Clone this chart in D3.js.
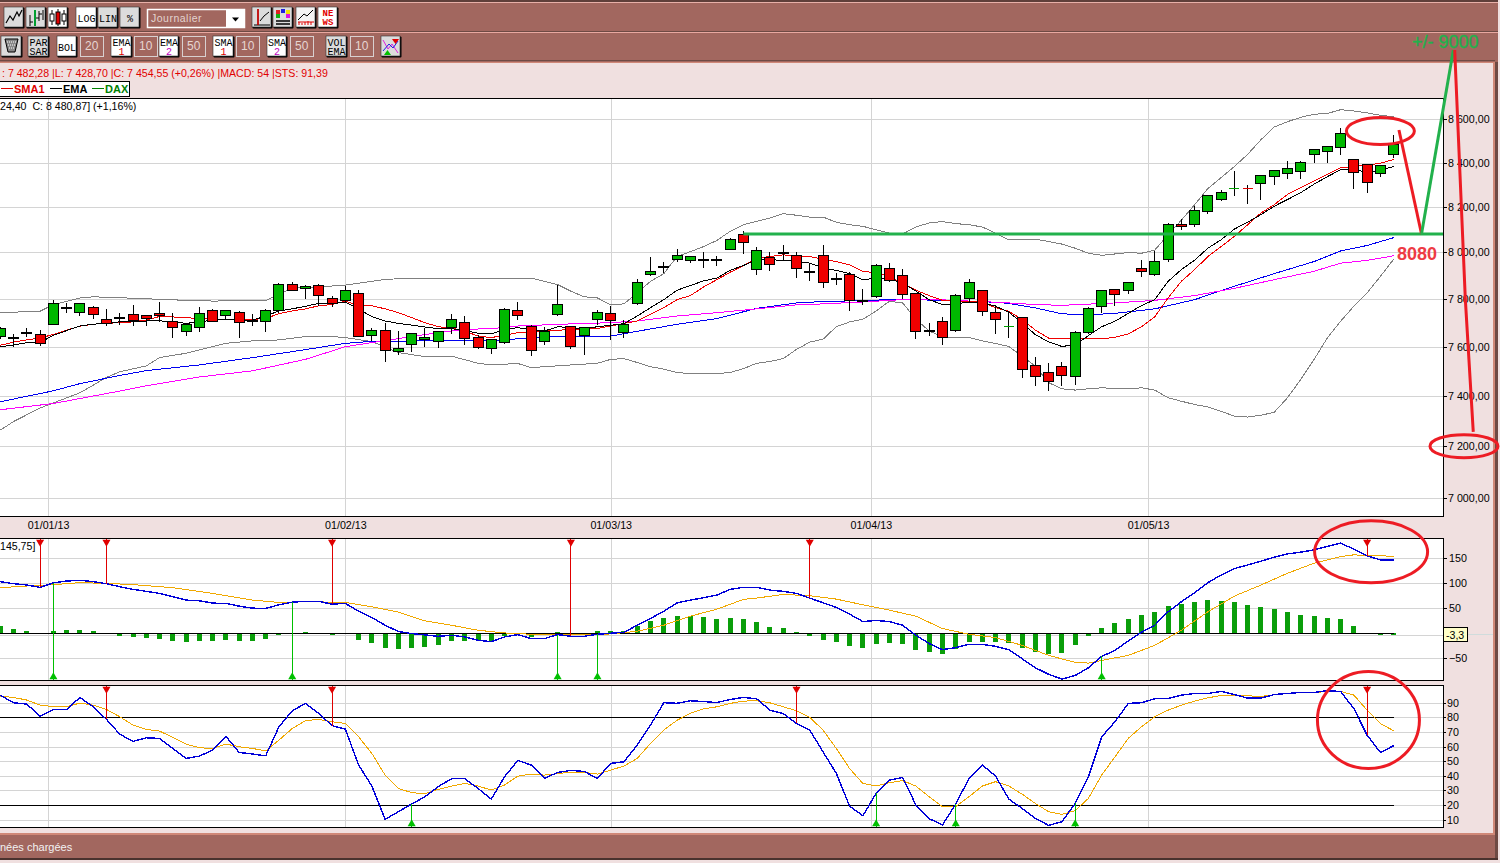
<!DOCTYPE html>
<html>
<head>
<meta charset="utf-8">
<script src="https://cdn.jsdelivr.net/npm/d3@7"></script>
<style>
  html, body { margin: 0; padding: 0; background: #f0e0e0; overflow: hidden; }
  text { font-family: "Liberation Sans", Arial, sans-serif; font-size: 10.6px; }
  .btn text { font-family: "Liberation Mono", monospace; font-size: 10px; text-anchor: middle; }
  .tick text { font-family: "Liberation Sans", Arial, sans-serif; font-size: 10.7px; fill: #000; }
  .grid line { stroke: #d4d4d4; shape-rendering: crispEdges; }
  .grid path, .noline path { display: none; }
  .noline line { stroke: #000; shape-rendering: crispEdges; }
  .mark { fill: none; shape-rendering: crispEdges; }
</style>
</head>
<body>
<div id="chart"></div>
<script>
// Daily candles, one entry per trading day
var candleOpen = [7644,7636,7657,7650,7692,7761,7742,7762,7713,7719,
  7733,7729,7738,7704,7662,7679,7750,7729,7742,7708,
  7704,7750,7860,7843,7856,7800,7792,7821,7646,7667,
  7582,7608,7629,7621,7679,7700,7638,7592,
  7617,7750,7683,7621,7733,7683,7646,7713,7738,7658,
  7779,7906,7939,7970,7966,7969,7969,8013,8077,7924,
  7979,7999,7987,7919,7987,7889,7906,7794,7809,7928,
  7902,7821,7668,7704,7667,7800,7834,7742,
  7682,7720,7521,7493,7517,7477,7657,7767,7838,7834,
  7928,7906,7970,8120,8124,8178,8232,8281.5,8282,8305,
  8336,8350,8359,8436,8450,8468,8414,8391,8350,8436];
var candleHigh = [7682,7654,7679,7668,7794,7781,7780,7772,7756,7739,
  7776,7733,7789,7739,7700,7767,7756,7751,7750,7735,
  7756,7866,7874,7860,7864,7813,7857,7839,7679,7697,
  7664,7658,7679,7663,7738,7729,7650,7630,
  7763,7789,7692,7683,7860,7684,7683,7754,7771,7713,
  7885,7978,7958,8013,7984,8001,7982,8062,8092,8022,
  8000,8031,8000,7953,8031,7911,7915,7843,7949,7953,
  7928,7822,7700,7725,7821,7885,7840,7775,
  7744,7721,7558,7534,7538,7666,7767,7838,7843,7873,
  7966,8004,8129,8147,8205,8253,8277,8361,8297,8342,
  8368,8405,8409,8460,8477,8559,8415,8392,8391,8527];
var candleLow = [7630,7600,7642,7603,7690,7742,7728,7717,7686,7689,
  7686,7686,7703,7636,7644,7661,7703,7714,7636,7686,
  7661,7742,7833,7800,7772,7765,7783,7641,7622,7537,
  7565,7578,7599,7595,7651,7607,7589,7570,
  7611,7711,7562,7607,7728,7589,7566,7689,7629,7638,
  7775,7896,7911,7959,7952,7931,7939,8009,7994,7901,
  7918,7968,7888,7875,7845,7858,7749,7776,7804,7872,
  7800,7632,7645,7607,7661,7783,7728,7653,
  7636,7472,7439,7419,7439,7443,7654,7739,7769,7823,
  7892,7897,7956,8099,8112,8170,8227,8251,8215,8233,
  8297,8324,8324,8400,8397,8435,8279,8261,8336,8422];
var candleClose = [7675,7637,7658,7613,7779,7762,7779,7733,7696,7720,
  7708,7717,7728,7679,7692,7738,7704,7750,7700,7707,
  7750,7860,7834,7851,7813,7779,7834,7642,7667,7584,
  7592,7654,7638,7662,7713,7633,7596,7629,
  7754,7729,7584,7663,7775,7600,7679,7742,7708,7692,
  7872,7919,7940,7987,7983,7968,7970,8058,8044,8009,
  7949,7998,7932,7911,7872,7881,7792,7795,7945,7877,
  7817,7663,7667,7638,7813,7872,7746,7713,
  7682.5,7505,7477,7459,7481,7657,7758,7834,7817,7872,
  7915,7962,8124,8111,8182,8250,8264,8282,8281.5,8341,
  8364,8373,8400,8459,8473,8532,8355,8309,8386,8481];

// Moving averages and Bollinger bands
var ema10 = [7600,7607,7617,7618,7647,7667,7686,7694,7696,7704,7705,7707,7708,7703,7697,7703,7711,7714,7710,7710,
  7728,7749,7758,7769,7781,7782,7787,7758,7725,7707,7697,7690,7682,7675,7675,7667,7656,7653,
  7672,7679,7670,7665,7683,7679,7675,7683,7689,7696,7728,7763,7797,7837,7857,7877,7889,7922,7943,7968,7970,7963,
  7962,7953,7933,7922,7908,7882,7888,7885,7868,7833,7797,7776,7779,7787,7783,7769,
  7744,7699,7650,7620,7601,7608,7646,7683,7706,7739,7772,7797,7875,7925,7966,8018,8055,8102,8132,8166,
  8203,8233,8264,8302,8336,8367,8370,8355,8365,8382];
var sma10 = [7606,7619,7628,7636,7651,7669,7685,7694,7696,7701,7703,7711,7726,7724,7721,7717,7714,7714,7711,7714,
  7717,7738,7749,7758,7771,7776,7790,7774,7771,7758,7742,7721,7700,7683,7678,7665,7644,7638,
  7647,7658,7661,7665,7668,7672,7672,7676,7686,7697,7707,7735,7763,7797,7814,7851,7882,7914,7942,7975,7982,7989,
  7985,7982,7970,7960,7946,7918,7911,7897,7865,7837,7814,7794,7790,7790,7786,7763,
  7748,7713,7669,7636,7636,7636,7632,7632,7639,7653,7683,7725,7804,7875,7925,7982,8025,8070,8121,8173,
  8210,8256,8286,8317,8347,8377,8382,8388,8397,8414];
var ema50Days = [0,4,6,9,11,15,19,23,26,28,33,37,41,46,48,51,54,57,60,62,65,68,71,75,76,78,80,82,84,87,90,93,96,99,101,103,105];
var ema50 = [7376,7420,7449,7482,7502,7525,7555,7588,7614,7622,7625,7624,7642,7644,7664,7693,7717,7760,7783,7789,7793,7799,7793,7786,7781,7762,7737,7733,7739,7758,7797,7854,7908,7960,8006,8030,8064];
var sma50Days = [0,4,9,11,15,19,23,26,28,31,33,35,37,39,42,46,48,51,54,57,60,62,65,68,71,75,76,78,80,84,87,90,93,96,99,101,103,105];
var sma50 = [7344,7369,7419,7440,7476,7501,7548,7600,7617,7642,7658,7672,7675,7686,7693,7700,7707,7728,7742,7758,7775,7779,7787,7797,7796,7786,7783,7776,7773,7783,7794,7814,7845,7882,7918,7953,7965,7985];
var bolUpDays = [0,3,4,6,7,10,13,16,20,22,24,26,29,30,34,37,38,40,41,42,43,44,45,46,47,48,49,50,51,52,53,54,55,56,57,58,59,60,61,62,63,64,65,66,67,68,69,70,71,72,73,74,75,
  76,77,78,79,80,81,82,83,84,85,86,87,88,89,90,91,92,93,94,95,96,97,98,99,100,101,102,103,104,105];
var bolUp = [7742,7748,7776,7804,7809,7803,7796,7791,7793,7847,7851,7859,7883,7886,7886,7886,
  7889,7889,7875,7861,7833,7809,7804,7775,7779,7826,7875,7908,7982,8003,8025,8052,8092,8121,8136,8151,8170,8163,8155,8155,8132,8121,8114,8099,8084,8080,8111,8129,8135,8126,8121,8111,8084,
  8055,8055,8058,8047,8036,8018,7996,7987,7993,7999,7996,8010,8077,8141,8210,8282,8332,8382,8438,8505,8564,8589,8609,8624,8627,8645,8639,8630,8619,8612];
var bolLowDays = [0,1,3,6,8,9,11,12,14,16,17,19,21,23,25,26,28,30,32,34,36,37,38,39,40,41,43,45,46,47,48,49,50,51,52,54,55,56,57,58,59,60,61,62,63,64,65,66,67,68,69,70,71,72,73,74,75,
  76,77,78,79,80,81,82,83,84,85,86,87,88,89,90,91,92,93,94,95,96,97,98,99,100,101,102,103,104,105];
var bolLow = [7263,7297,7351,7412,7474,7497,7521,7555,7573,7600,7614,7624,7628,7642,7642,7638,7621,7576,7559,7561,7532,7525,
  7528,7531,7514,7518,7525,7532,7548,7551,7535,7518,7508,7494,7490,7490,7494,7510,7532,7539,7551,7589,7619,7631,7683,7703,7714,7749,7790,7783,7714,7665,7642,7638,7638,7624,7613,
  7601,7561,7520,7453,7428,7423,7428,7432,7430,7428,7432,7423,7392,7378,7365,7355,7338,7318,7315,7322,7334,7392,7466,7547,7636,7706,7769,7826,7896,7970];

// MACD panel
var macdLine = [102.3,98.3,95.6,91,100,103.6,105,102.3,98.3,92.3,87,83,79,72.3,65.6,64.3,59.6,59,53.6,49.6,
  49,56.3,61.6,63,63,57.6,59,43.6,31,15.6,3,-1,-3.7,-6.4,-4.4,-7.7,-14.4,-17,-7.7,-3,
  -11,-11,-3,-6.4,-6.4,-2.4,-0.4,1.6,15.6,29,43.6,60,65.6,70.3,75.6,87,91,
  91,85.6,83,79,69.6,60.3,51,37.6,23,25,23,15.6,-4.4,-21,-33,-29,-22.4,-22.4,-26.4,-33,
  -51,-69,-82,-91.6,-84.4,-69,-46.4,-34.4,-15.7,1.6,15.6,42.3,62.3,80.3,100.3,115.6,128.3,135.6,143,151,
  157.6,161,165.6,172.3,179,167,153.6,145.7,145.75];
var macdSignalDays = [0,2,4,6,8,10,13,16,19,21,23,25,26,28,30,32,34,36,38,40,42,44,46,48,50,52,54,56,57,59,61,63,65,67,69,71,73,75,77,79,81,82,83,85,87,89,91,93,95,97,99,101,102,103,105];
var macdSignal = [90.3,93.7,96.4,100.3,99,96.4,90.3,79,65.6,61,62.3,61.6,61,52.3,41.7,24.3,15.6,5.6,0.3,-2.4,-3,-3.7,-1.7,3.6,15.6,33.6,47.6,67,69.6,77,74.3,67.6,56.3,45.6,33.6,9,-2.4,-9,-24.4,-44.4,-58.4,-59.7,-54.4,-44.4,-24.4,5.6,42.3,73.6,95.6,119,139,152.3,155.7,154.3,153];
var macdHist = [14.7,8.7,4.7,0,4.7,6.7,6.7,4.7,0,-5.3,-7.3,-9.3,-11.3,-15.3,-17.3,-15.3,-15.3,-13.3,-15.3,-15.3,
  -11.3,-3.3,0,2.7,0,-3,0,-13.3,-19.3,-29.3,-31.3,-29.3,-27.3,-23.3,-15.3,-15.3,-15.3,-15.3,-5.3,-3,
  -7,-3,2.7,-3,0,4.7,4.7,4.7,14,24.7,30.7,34.7,34.7,32.7,28.7,30.7,28.7,
  22.7,12.7,10.7,2.7,-5.3,-13.3,-17.3,-25.3,-29.3,-21.3,-19.3,-21.3,-33.3,-37.3,-41.3,-31.3,-17.3,-17.3,-17.3,-19.3,
  -29.3,-37.3,-41.3,-39.3,-23.3,-5.3,10.7,20.7,28.7,36.7,42.7,54.7,58.7,62.7,66.7,64.7,62.7,56.7,52.7,48.7,
  42.7,36.7,34.7,30.7,28.7,14.7,0,-3.3,-3.3];
var macdSellDays = [3,8,25,43,61,103];
var macdBuyDays = [4,22,42,45,83];
var macdLast = -3.3;

// Stochastic panel
var stochK = [95,90,89,80.8,85.4,85.4,93.6,87.2,78.6,68.5,63.5,66,65.6,58.7,51.9,53.5,57.6,67,56,54.9,
  53.7,73.6,84.5,89.5,82.7,74.3,72,47.4,33,10.2,15.5,20.7,25.7,32.6,38,38,31.4,24.1,39.4,50.5,
  47.4,38.3,42.3,43.7,43,38.2,48.5,49.6,61,74.7,90,89.6,91.3,90.8,90.1,92.2,93.6,
  92.7,84.9,82.6,75.8,71.3,56.4,41.7,19.3,12.7,28,37.1,38.9,20,10.7,6.4,20.7,38.2,47.4,39.8,24.1,
  17.7,10.9,6.1,8.6,21.1,39.4,66.7,77,89.5,90,92.7,92.9,95.2,96.3,96.3,97.7,95.6,93.1,93.1,95.6,
  96.3,97,97,98.2,97.7,86,67.8,56,60.6];
var stochD = [94.5,93.6,91.8,88.3,87.4,87.4,89.7,88.3,85.4,80.4,74.7,71.7,70.6,66.3,61.7,59.2,58.7,61.7,59.9,58.7,
  57.1,64.4,72.4,77.7,78.6,77,75.8,66.7,55.3,40.5,31.4,28.5,27.8,30.7,33,34.8,33,30.3,33.7,39.8,
  41.2,40.5,41.4,42.6,42.3,41.2,43.9,46.7,51.9,62.2,71.3,78,82.7,85.8,87.2,89.5,91.1,
  91.3,89.9,87.2,84.5,79.9,71.3,58.7,45,34.8,33,35.3,36.7,33,25.7,18.9,18.9,25.7,33,36,33,
  27.5,21.1,15.5,13.6,16.2,24.6,40.5,53,65.6,73.6,80.4,84.9,88.3,91.1,93.3,95,95.2,94.7,94.3,95.4,
  96.5,96.7,96.7,97.9,97.7,95.2,84.9,75.8,70.8];
var stochSellDays = [8,25,60,103];
var stochBuyDays = [31,66,72,81];

// Axis ticks
var monthDays = [3.6,26,46,65.6,86.5];
var monthLabels = ["01/01/13","01/02/13","01/03/13","01/04/13","01/05/13"];
var priceTicks = [7000,7200,7400,7600,7800,8000,8200,8400,8600];
var macdTicks = [150,100,50,-50];
var stochTicks = [90,80,70,60,50,40,30,20,10];
var stochBands = [80,20];

// Hand drawn notes on top of the chart
var noteLevel = 8080;
var noteFallDays = [105.4,107.1];
var noteFallPrices = [8550,8080];
var noteRiseDays = [107.1,109.5];
var noteRisePrices = [8080,8930];
var noteDropDays = [109.6,110.4,111];
var noteDropPrices = [8930,7800,7256];

var width = 1500, height = 863;
var plotRight = 1443;

var svg = d3.select("#chart").append("svg")
  .attr("width", width).attr("height", height)
  .style("display", "block");

// Scales
var x = d3.scaleLinear().domain([0,105]).range([0.3,1393.65]);
var y = d3.scaleLog().domain([7000,8600]).range([498,119.3]);
var yMacd = d3.scaleLinear().domain([-50,150]).range([658.2,557.7]);
var yStoch = d3.scaleLinear().domain([10,90]).range([819.7,702.7]);

// Window frame
svg.append("rect").attr("width", 1493).attr("height", 833).attr("fill", "#f0e0e0");
svg.append("rect").attr("x", 1493).attr("y", 0).attr("width", 2).attr("height", 835).attr("fill", "#d08878");
svg.append("rect").attr("x", 1495).attr("y", 60).attr("width", 3).attr("height", 800).attr("fill", "#6e4a44");
svg.append("rect").attr("width", 1498).attr("height", 62).attr("fill", "#a2675f");
svg.append("rect").attr("width", 1498).attr("height", 2).attr("fill", "#5f3f3a");
svg.append("rect").attr("y", 2).attr("width", 1498).attr("height", 1).attr("fill", "#e8b0a8");
svg.append("rect").attr("y", 31).attr("width", 1498).attr("height", 1).attr("fill", "#6e4a44");
svg.append("rect").attr("y", 32).attr("width", 1498).attr("height", 1).attr("fill", "#e8a8a0");
svg.append("rect").attr("y", 60).attr("width", 1495).attr("height", 1).attr("fill", "#6e4a44");
svg.append("rect").attr("y", 62).attr("width", 1495).attr("height", 1).attr("fill", "#d08878");
svg.append("rect").attr("y", 833).attr("width", 1495).attr("height", 2).attr("fill", "#d08878");
svg.append("rect").attr("y", 835).attr("width", 1495).attr("height", 24).attr("fill", "#a2675f");
svg.append("rect").attr("y", 858).attr("width", 1498).attr("height", 2).attr("fill", "#4a322e");
svg.append("text").attr("x", 0).attr("y", 851).attr("fill", "#f2f2f2").style("font-size", "11px").text("nées chargées");

// Toolbar buttons
function button(px, py, w, h, fill, label, sub, subColor) {
  var g = svg.append("g").attr("class", "btn").attr("transform", "translate(" + px + "," + py + ")");
  g.append("rect").attr("x", 0.5).attr("y", 0.5).attr("width", w).attr("height", h)
    .attr("fill", "#000").attr("rx", 1);
  g.append("rect").attr("x", 0).attr("y", 0).attr("width", w - 1).attr("height", h - 1)
    .attr("fill", fill).attr("stroke", "#333").attr("stroke-width", 0.6);
  if (label) g.append("text").attr("x", w / 2).attr("y", sub ? h / 2 - 1 : h / 2 + 4).attr("fill", "#000").text(label);
  if (sub) g.append("text").attr("x", w / 2).attr("y", h - 2).attr("fill", subColor || "#000").text(sub);
  return g;
}
function inputBox(px, value) {
  svg.append("rect").attr("x", px + 0.5).attr("y", 36.5).attr("width", 23).attr("height", 20)
    .attr("fill", "#a2675f").attr("stroke", "#d8d0d0");
  svg.append("text").attr("x", px + 5).attr("y", 50).attr("fill", "#e6d6d2").style("font-size", "12px").text(value);
}
var grey = "#dcdcdc";
var iconLine = button(4, 7, 20, 21, grey);
iconLine.append("path").attr("d", "M2,16L6,9L9,13L13,5L15,9L18,3").attr("fill", "none").attr("stroke", "#000").attr("stroke-width", 1.2);
var iconBars = button(26, 7, 20, 21, grey);
iconBars.append("path").attr("d", "M4,8V19M4,15H7M13,4V14M13,7H16M10,11H13M17,3V13").attr("fill", "none").attr("stroke", "#000");
iconBars.append("path").attr("d", "M9,3V19").attr("stroke", "#00a030").attr("stroke-width", 2);
var iconCandles = button(48, 7, 20, 21, "#fff");
iconCandles.append("path").attr("d", "M4,3V18M10,2V19M16,3V18").attr("stroke", "#000");
iconCandles.append("rect").attr("x", 2).attr("y", 7).attr("width", 4).attr("height", 7).attr("fill", "#fff").attr("stroke", "#000");
iconCandles.append("rect").attr("x", 8).attr("y", 5).attr("width", 4).attr("height", 12).attr("fill", "#e00000").attr("stroke", "#000");
iconCandles.append("rect").attr("x", 14).attr("y", 7).attr("width", 4).attr("height", 7).attr("fill", "#fff").attr("stroke", "#000");
button(76, 7, 21, 21, "#fff", "LOG");
button(98, 7, 20, 21, grey, "LIN");
button(120, 7, 20, 21, grey, "%");

svg.append("rect").attr("x", 147.5).attr("y", 9.5).attr("width", 97).attr("height", 18).attr("fill", "#a2675f").attr("stroke", "#fff").attr("stroke-width", 1.5);
svg.append("rect").attr("x", 226).attr("y", 10).attr("width", 18).attr("height", 17).attr("fill", "#fff");
svg.append("path").attr("d", "M232,17.5h7l-3.5,4z").attr("fill", "#000");
svg.append("text").attr("x", 151).attr("y", 22).attr("fill", "#e2d4d0").style("font-size", "10.5px").style("letter-spacing", "0.5px").text("Journalier");

var iconA = button(252, 7, 20, 21, grey);
iconA.append("path").attr("d", "M2,18H18M6,2V18").attr("stroke", "#000");
iconA.append("path").attr("d", "M6,2V18").attr("stroke", "#e00000").attr("stroke-width", 1.5);
iconA.append("path").attr("d", "M8,14L12,9L17,5").attr("fill", "none").attr("stroke", "#000");
var iconB = button(273, 7, 20, 21, grey);
iconB.append("rect").attr("x", 3).attr("y", 3).attr("width", 4).attr("height", 4).attr("fill", "#e02020");
iconB.append("rect").attr("x", 8).attr("y", 2).attr("width", 4).attr("height", 4).attr("fill", "#2020e0");
iconB.append("rect").attr("x", 13).attr("y", 3).attr("width", 4).attr("height", 4).attr("fill", "#f0e000");
iconB.append("rect").attr("x", 3).attr("y", 7).attr("width", 4).attr("height", 4).attr("fill", "#10b010");
iconB.append("rect").attr("x", 13).attr("y", 7).attr("width", 4).attr("height", 4).attr("fill", "#e010e0");
iconB.append("path").attr("d", "M3,14H17M3,17H17").attr("stroke", "#000").attr("stroke-width", 1.4);
var iconC = button(296, 7, 20, 21, "#f4f4f4");
iconC.append("path").attr("d", "M2,13L8,7L11,9L17,3").attr("fill", "none").attr("stroke", "#000");
iconC.append("path").attr("d", "M2,15H18M3,15V18M6,16V18M9,15V18M12,14V18M15,15V18").attr("stroke", "#e00000");
var iconD = button(318, 7, 20, 21, "#fff");
iconD.append("text").attr("x", 10).attr("y", 9).attr("fill", "#e00000").style("font-weight", "bold").style("font-size", "9px").text("NE");
iconD.append("text").attr("x", 10).attr("y", 18).attr("fill", "#e00000").style("font-weight", "bold").style("font-size", "9px").text("WS");

var iconBin = button(1, 36, 21, 21, grey);
iconBin.append("path").attr("d", "M4,3H17L14,16H7Z").attr("fill", "#888").attr("stroke", "#000");
iconBin.append("path").attr("d", "M6,6H15M7,9H14M8,12H13").attr("stroke", "#fff").attr("stroke-dasharray", "1,1");
button(28, 36, 21, 21, grey, "PAR", "SAR");
button(57, 36, 20, 21, "#fff", "BOL");
inputBox(80, "20");
button(111, 36, 21, 21, "#fff", "EMA", "1", "#e00000");
inputBox(134, "10");
button(159, 36, 20, 21, "#fff", "EMA", "2", "#c000c0");
inputBox(182, "50");
button(213, 36, 21, 21, "#fff", "SMA", "1", "#e00000");
inputBox(236, "10");
button(267, 36, 20, 21, "#fff", "SMA", "2", "#c000c0");
inputBox(290, "50");
button(326, 36, 21, 21, grey, "VOL", "EMA");
inputBox(350, "10");
var iconSig = button(381, 36, 20, 21, grey);
iconSig.append("path").attr("d", "M2,4L7,13L11,8L17,17").attr("fill", "none").attr("stroke", "#e020e0");
iconSig.append("path").attr("d", "M2,15L8,8L12,12L17,5").attr("fill", "none").attr("stroke", "#2020e0");
iconSig.append("path").attr("d", "M11,3H18L14.5,8Z").attr("fill", "#e00000");
iconSig.append("path").attr("d", "M3,19H10L6.5,14Z").attr("fill", "#00c000");

// Info line and legend
svg.append("text").attr("x", 2).attr("y", 77).attr("fill", "#e00000")
  .text(": 7 482,28 |L: 7 428,70 |C: 7 454,55 (+0,26%) |MACD: 54 |STS: 91,39");
svg.append("rect").attr("x", -2).attr("y", 81.5).attr("width", 131.5).attr("height", 15)
  .attr("fill", "#fff").attr("stroke", "#000");
var legendSeries = [
  {name: "SMA1", color: "#e00000", px: 1},
  {name: "EMA", color: "#000", px: 50},
  {name: "DAX", color: "#008000", px: 92}
];
legendSeries.forEach(function(d) {
  svg.append("line").attr("x1", d.px).attr("x2", d.px + 12).attr("y1", 88.5).attr("y2", 88.5)
    .attr("stroke", d.color).attr("shape-rendering", "crispEdges");
  svg.append("text").attr("x", d.px + 13).attr("y", 93).attr("fill", d.color)
    .style("font-weight", "bold").style("font-size", "11px").text(d.name);
});

// Panels
function panel(top, bottom) {
  svg.append("rect").attr("x", -2).attr("y", top + 0.5).attr("width", plotRight + 2.5).attr("height", bottom - top)
    .attr("fill", "#fff").attr("stroke", "#000").attr("shape-rendering", "crispEdges");
}
panel(98, 516);
panel(538, 680);
panel(685, 827);

// Month gridlines run through all three panels
[[98.5,516],[538.5,680],[685.5,827]].forEach(function(p) {
  svg.append("g").attr("class", "grid").attr("transform", "translate(0," + p[1] + ")")
    .call(d3.axisBottom(x).tickValues(monthDays).tickSize(p[0] - p[1]).tickFormat(""));
});

// Horizontal grids
svg.append("g").attr("class", "grid").attr("transform", "translate(" + plotRight + ",0)")
  .call(d3.axisRight(y).tickValues(priceTicks).tickSize(-plotRight).tickFormat(""));
svg.append("g").attr("class", "grid").attr("transform", "translate(" + plotRight + ",0)")
  .call(d3.axisRight(yMacd).tickValues(macdTicks.concat([macdLast])).tickSize(-plotRight).tickFormat(""));
svg.append("g").attr("class", "grid").attr("transform", "translate(" + plotRight + ",0)")
  .call(d3.axisRight(yStoch).tickValues(stochTicks).tickSize(-plotRight).tickFormat(""));

// Axes
var priceFormat = d3.formatLocale({decimal: ",", thousands: " ", grouping: [3], currency: ["", ""]}).format(",.2f");
svg.append("g").attr("class", "noline").attr("transform", "translate(" + plotRight + ",0)")
  .call(d3.axisRight(y).tickValues(priceTicks).tickSize(4).tickPadding(1).tickFormat(priceFormat));
svg.append("g").attr("class", "noline").attr("transform", "translate(" + plotRight + ",0)")
  .call(d3.axisRight(yMacd).tickValues(macdTicks).tickSize(4).tickPadding(2));
svg.append("g").attr("class", "noline").attr("transform", "translate(" + plotRight + ",0)")
  .call(d3.axisRight(yStoch).tickValues(stochTicks).tickSize(3).tickPadding(1));
svg.append("g").attr("class", "noline").attr("transform", "translate(0,516)")
  .call(d3.axisBottom(x).tickValues(monthDays).tickSize(0).tickPadding(5).tickFormat(function(d, i) { return monthLabels[i]; }));

// Line helper: days[i] gives the x position of values[i]
function drawLine(days, values, scale, color, lineWidth) {
  var gen = d3.line()
    .x(function(d, i) { return x(days ? days[i] : i); })
    .y(function(d) { return scale(d); });
  svg.append("path").datum(values).attr("class", "mark")
    .attr("stroke", color).attr("stroke-width", lineWidth || 1).attr("d", gen);
}

// Main panel lines sit behind the candles
drawLine(bolUpDays, bolUp, y, "#808080");
drawLine(bolLowDays, bolLow, y, "#808080");
drawLine(ema50Days, ema50, y, "#0000f0");
drawLine(sma50Days, sma50, y, "#ff00ff");
drawLine(null, sma10, y, "#f00000");
drawLine(null, ema10, y, "#000");

// Candles
var candles = svg.append("g").selectAll("g").data(candleOpen).enter().append("g")
  .attr("shape-rendering", "crispEdges");
candles.append("line")
  .attr("x1", function(d, i) { return x(i); })
  .attr("x2", function(d, i) { return x(i); })
  .attr("y1", function(d, i) { return y(candleHigh[i]); })
  .attr("y2", function(d, i) { return y(candleLow[i]); })
  .attr("stroke", "#000");
candles.append("rect")
  .attr("x", function(d, i) { return x(i) - 5; })
  .attr("width", 10)
  .attr("y", function(d, i) { return y(Math.max(d, candleClose[i])); })
  .attr("height", function(d, i) { return Math.max(1, Math.abs(y(d) - y(candleClose[i]))); })
  .attr("fill", function(d, i) { return candleClose[i] >= d ? "#00b800" : "#f00000"; })
  .attr("stroke", "#000");
// flat days are only a thin coloured dash, drawn over the bar
candles.filter(function(d, i) { return Math.abs(candleClose[i] - d) < 1; }).selectAll("rect").remove();
candles.filter(function(d, i) { return Math.abs(candleClose[i] - d) < 1; }).append("line")
  .attr("x1", function(d) { return x(candleOpen.indexOf(d)) - 5; })
  .attr("x2", function(d) { return x(candleOpen.indexOf(d)) + 5; })
  .attr("y1", function(d) { return y(d); })
  .attr("y2", function(d) { return y(d); })
  .attr("stroke", function(d) { var i = candleOpen.indexOf(d); return candleClose[i] >= d ? "#00a000" : "#e00000"; });

svg.append("text").attr("x", 0).attr("y", 110).attr("fill", "#000").style("white-space", "pre")
  .text("24,40  C: 8 480,87] (+1,16%)");

// MACD panel
svg.append("g").selectAll("rect").data(macdHist).enter().append("rect")
  .attr("x", function(d, i) { return x(i) - 2.5; })
  .attr("width", 5)
  .attr("y", function(d) { return d > 0 ? yMacd(d) : yMacd(0); })
  .attr("height", function(d) { return Math.abs(yMacd(d) - yMacd(0)); })
  .attr("fill", "#0a9e0a")
  .attr("shape-rendering", "crispEdges");
svg.append("line").attr("x1", 0).attr("x2", x(105)).attr("y1", yMacd(0)).attr("y2", yMacd(0))
  .attr("stroke", "#000").attr("stroke-width", 1).attr("shape-rendering", "crispEdges");
drawLine(macdSignalDays, macdSignal, yMacd, "#f0a800");
drawLine(null, macdLine, yMacd, "#0000d8", 1.4);
svg.append("text").attr("x", 0).attr("y", 550).attr("fill", "#000").text("145,75]");

// Last value flag
svg.append("line").attr("x1", 1468).attr("x2", 1493).attr("y1", yMacd(macdLast)).attr("y2", yMacd(macdLast))
  .attr("stroke", "#d0dcdc").attr("shape-rendering", "crispEdges");
svg.append("rect").attr("x", plotRight + 0.5).attr("y", 627.5).attr("width", 24).attr("height", 14)
  .attr("fill", "#ffffc8").attr("stroke", "#000").attr("shape-rendering", "crispEdges");
svg.append("text").attr("x", plotRight + 3).attr("y", 638.5).attr("fill", "#000")
  .text(d3.format(".1f")(macdLast).replace(".", ",").replace("−", "-"));

// Stochastic panel
stochBands.forEach(function(b) {
  svg.append("line").attr("x1", 0).attr("x2", x(105)).attr("y1", yStoch(b)).attr("y2", yStoch(b))
    .attr("stroke", "#000").attr("shape-rendering", "crispEdges");
});
drawLine(null, stochD, yStoch, "#f0a800");
drawLine(null, stochK, yStoch, "#0000d8", 1.4);

// Buy and sell signals: a stem from the panel edge to the line, with a triangle on the edge
var triangle = d3.symbol().type(d3.symbolTriangle).size(28);
function signals(days, values, scale, edge, color, pointDown) {
  var g = svg.append("g").selectAll("g").data(days).enter().append("g");
  g.append("line")
    .attr("x1", function(d) { return x(d); })
    .attr("x2", function(d) { return x(d); })
    .attr("y1", edge)
    .attr("y2", function(d) { return scale(values[d]); })
    .attr("stroke", color)
    .attr("shape-rendering", "crispEdges");
  g.append("path").attr("d", triangle)
    .attr("fill", color)
    .attr("transform", function(d) {
      return "translate(" + x(d) + "," + (pointDown ? edge + 3 : edge - 3) + ")" + (pointDown ? " rotate(180)" : "");
    });
}
signals(macdSellDays, macdLine, yMacd, 539, "#e00000", true);
signals(macdBuyDays, macdLine, yMacd, 680, "#00c000", false);
signals(stochSellDays, stochK, yStoch, 686, "#e00000", true);
signals(stochBuyDays, stochK, yStoch, 827, "#00c000", false);

// Notes drawn by hand over the picture
var paintRed = "#ed1c24", paintGreen = "#22b14c";
svg.append("line").attr("x1", x(56)).attr("x2", plotRight).attr("y1", y(noteLevel)).attr("y2", y(noteLevel))
  .attr("stroke", paintGreen).attr("stroke-width", 3);
drawNote(noteFallDays, noteFallPrices, paintRed);
drawNote(noteRiseDays, noteRisePrices, paintGreen);
drawNote(noteDropDays, noteDropPrices, paintRed);
function drawNote(days, prices, color) {
  var gen = d3.line()
    .x(function(d, i) { return x(days[i]); })
    .y(function(d) { return y(d); });
  svg.append("path").datum(prices).attr("d", gen)
    .attr("fill", "none").attr("stroke", color).attr("stroke-width", 3);
}
function drawRing(day, py, rx, ry) {
  svg.append("ellipse").attr("cx", x(day)).attr("cy", py).attr("rx", rx).attr("ry", ry)
    .attr("fill", "none").attr("stroke", paintRed).attr("stroke-width", 3);
}
drawRing(104, y(8545), 34, 13.5);
drawRing(110.3, y(7200), 34, 11.5);
drawRing(103.3, yMacd(161.6), 56.5, 31);
drawRing(103.1, yStoch(78.1), 51, 48.5);

svg.append("text").attr("x", 1397).attr("y", 260).attr("fill", "#ee3b44")
  .style("font-size", "18px").style("font-weight", "bold").text("8080");
svg.append("text").attr("x", 1412).attr("y", 48).attr("fill", paintGreen)
  .attr("stroke", paintGreen).attr("stroke-width", 0.4)
  .style("font-size", "18px").text("+/- 9000");
</script>
</body>
</html>
